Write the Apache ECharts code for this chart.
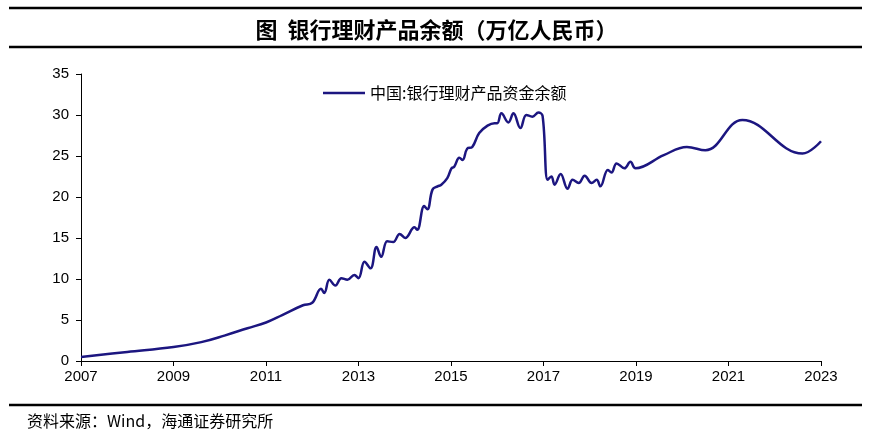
<!DOCTYPE html>
<html>
<head>
<meta charset="utf-8">
<script src="https://cdn.jsdelivr.net/npm/echarts@6/dist/echarts.min.js"></script>
<style>
html,body{margin:0;padding:0;background:#fff;}
#c{width:873px;height:442px;}
</style>
</head>
<body>
<div id="c"></div>
<script>
// decimal years and values (万亿人民币)
var years = [2007.0,2008.0,2009.0,2009.6,2010.1,2010.6,2011.0,2011.35,2011.8,2012.0,
2012.19,2012.26,2012.37,2012.5,2012.63,2012.76,2012.91,2013.0,2013.13,2013.26,2013.39,2013.49,2013.62,2013.75,2013.89,2014.01,
2014.21,2014.27,2014.42,2014.49,2014.6,2014.71,2014.79,2014.92,2015.01,2015.07,2015.18,2015.25,2015.35,2015.46,2015.61,2015.79,
2015.94,2016.0,2016.09,2016.24,2016.35,2016.5,2016.63,2016.76,2016.89,2016.98,2017.09,2017.17,2017.24,2017.37,2017.52,2017.63,
2017.76,2017.89,2018.04,2018.15,2018.23,2018.39,2018.47,2018.58,2018.75,2018.88,2018.99,2019.6,2020.1,2020.5,
2021.3,2022.6,2023.0];
var balance = [0.5,1.1,1.7,2.3,3.1,4.0,4.7,5.6,6.8,7.1,
8.8,8.3,9.9,9.2,10.1,9.9,10.5,10.1,12.1,11.3,13.9,12.7,14.6,14.5,15.5,15.0,
16.3,16.0,18.9,18.5,20.9,21.3,21.5,22.3,23.5,23.7,24.8,24.5,25.9,26.1,27.8,28.7,
29.0,29.0,30.2,29.1,30.2,28.4,30.0,29.8,30.3,29.9,22.1,22.5,21.5,22.8,21.0,22.1,
21.7,22.6,21.7,22.1,21.3,23.3,23.0,24.1,23.5,24.3,23.5,25.1,26.1,25.7,
29.4,25.3,26.8];
var xTicks = [2007,2009,2011,2013,2015,2017,2019,2021,2023];
var yTicks = [0,5,10,15,20,25,30,35];
var seriesName = '中国:银行理财产品资金余额';
var titleText = '图  银行理财产品余额（万亿人民币）';
var sourceText = '资料来源：Wind，海通证券研究所';

var data = years.map(function(y,i){return [y,balance[i]];});
var chart = echarts.init(document.getElementById('c'));
var cjk = '"Noto Sans CJK SC", sans-serif';
chart.setOption({
  animation:false,
  backgroundColor:'#fff',
  title:[{
    text:titleText, left:'center', top:14,
    textStyle:{fontFamily:cjk, fontSize:22, fontWeight:'bold', color:'#000'}
  },{
    text:sourceText, left:22, top:408,
    textStyle:{fontFamily:cjk, fontSize:16, fontWeight:'normal', color:'#000'}
  }],
  graphic:[
    {type:'line', shape:{x1:9,y1:8,x2:862,y2:8}, style:{stroke:'#000',lineWidth:2.5}},
    {type:'line', shape:{x1:9,y1:47,x2:862,y2:47}, style:{stroke:'#000',lineWidth:2.5}},
    {type:'line', shape:{x1:9,y1:405,x2:862,y2:405}, style:{stroke:'#000',lineWidth:2.5}}
  ],
  legend:{
    data:[seriesName], left:318, top:80, itemWidth:42, itemHeight:20, itemGap:6,
    icon:'path://M0,9 L42,9 L42,11.5 L0,11.5 Z',
    textStyle:{fontFamily:cjk, fontSize:16, color:'#000'}
  },
  grid:{left:81, right:52, top:74, bottom:81},
  xAxis:{
    type:'value', min:2007, max:2023, interval:2,
    axisLine:{show:true, lineStyle:{color:'#000', width:1}},
    axisTick:{show:true, length:5, lineStyle:{color:'#000'}},
    splitLine:{show:false},
    axisLabel:{fontFamily:'"Liberation Sans", Arial, sans-serif', fontSize:15, color:'#000', margin:8,
      formatter:function(v){return xTicks.indexOf(v)>=0 ? String(v) : '';}}
  },
  yAxis:{
    type:'value', min:0, max:35, interval:5,
    axisLine:{show:true, lineStyle:{color:'#000', width:1}},
    axisTick:{show:true, length:5, lineStyle:{color:'#000'}},
    splitLine:{show:false},
    axisLabel:{fontFamily:'"Liberation Sans", Arial, sans-serif', fontSize:15, color:'#000', margin:12,
      formatter:function(v){return yTicks.indexOf(v)>=0 ? String(v) : '';}}
  },
  series:[{
    name:seriesName, type:'line', data:data, smooth:0.4,
    showSymbol:false, symbol:'none',
    lineStyle:{color:'#1c1680', width:2.5},
    itemStyle:{color:'#1c1680'}
  }]
});
</script>
</body>
</html>
